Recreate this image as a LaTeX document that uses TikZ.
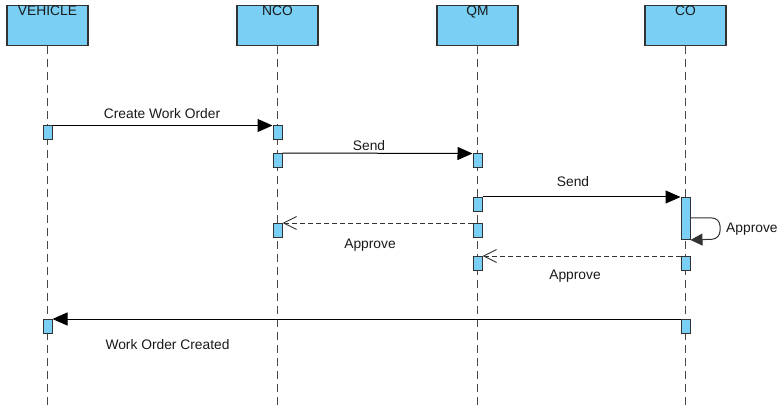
\documentclass[tikz,border=0pt]{standalone}
\usepackage{fontspec}
\setmainfont{Liberation Sans}
\usetikzlibrary{arrows.meta}
\definecolor{actblue}{RGB}{122,207,245}
\definecolor{edge}{RGB}{50,50,50}
\begin{document}
\begin{tikzpicture}[x=1pt,y=-1pt,
  every node/.style={font=\fontsize{13.8}{16}\selectfont, text=black!90},
  header/.style={draw=edge, line width=1.1pt, fill=actblue, minimum width=81pt, minimum height=40pt, anchor=north, inner sep=0pt},
  headtext/.style={anchor=north, inner sep=0pt},
  act/.style={draw=edge, line width=1pt, fill=actblue, minimum width=9pt, anchor=north, inner sep=0pt},
  lifeline/.style={draw=edge!90, line width=1pt, dash pattern=on 8pt off 5pt},
  msg/.style={draw=black, line width=1pt, -{Triangle[length=15pt,width=13pt]}},
  reply/.style={draw=edge, line width=1pt, dash pattern=on 5pt off 3pt, -{Straight Barb[length=13pt,width=13pt]}},
  lbl/.style={inner sep=0pt}
]
\useasboundingbox (0,0) rectangle (777,409);
% headers
\node[header] (hV) at (47.5,5) {};
\node[header] (hN) at (277.5,5) {};
\node[header] (hQ) at (477.5,5) {};
\node[header] (hC) at (685.5,5) {};
\node[headtext] (tV) at (47.5,6) {VEHICLE};
\node[headtext] (tN) at (277.5,6) {NCO};
\node[headtext] (tQ) at (477.5,6) {QM};
\node[headtext] (tC) at (685.5,6) {CO};
% lifeline ends
\coordinate (eV) at (47.5,409);
\coordinate (eN) at (277.5,409);
\coordinate (eQ) at (477.5,409);
\coordinate (eC) at (685.5,409);
\draw[lifeline] (hV.south) -- (eV);
\draw[lifeline] (hN.south) -- (eN);
\draw[lifeline] (hQ.south) -- (eQ);
\draw[lifeline] (hC.south) -- (eC);
% activations
\node[act, minimum height=14pt] (V1) at (47.5,125.5) {};
\node[act, minimum height=14pt] (N1) at (277.5,125.5) {};
\node[act, minimum height=14pt] (N2) at (277.5,153) {};
\node[act, minimum height=14pt] (Q1) at (477.5,153.5) {};
\node[act, minimum height=14pt] (Q2) at (477.5,197) {};
\node[act, minimum height=42pt] (C1) at (685.5,197) {};
\node[act, minimum height=14pt] (N3) at (277.5,223) {};
\node[act, minimum height=14pt] (Q3) at (477.5,223) {};
\node[act, minimum height=14pt] (Q4) at (477.5,256) {};
\node[act, minimum height=14pt] (C2) at (685.5,256) {};
\node[act, minimum height=14pt] (V2) at (47.5,319) {};
\node[act, minimum height=14pt] (C3) at (685.5,319) {};
% messages
\draw[msg] (V1.north east) -- (N1.north west);
\draw[msg] (N2.north east) -- (Q1.north west);
\draw[msg] (Q2.north east) -- (C1.north west);
\draw[reply] (Q3.north west) -- (N3.north east);
\coordinate (s1) at (690,218);
\coordinate (s2) at (720,218);
\coordinate (s3) at (720,239);
\draw[draw=edge, line width=1pt, rounded corners=8pt, -{Triangle[length=12pt,width=12pt]}] (s1) -- (s2) -- (s3) -- (C1.south east);
\draw[reply] (C2.north west) -- (Q4.north east);
\draw[msg] (C3.north west) -- (V2.north east);
% labels
\node[lbl] (l1) at (162,114) {Create Work Order};
\node[lbl] (l2) at (369,146) {Send};
\node[lbl] (l3) at (573,182) {Send};
\node[lbl] (l4) at (370,245.5) {Approve};
\node[lbl, anchor=west] (l5) at (726,229) {Approve};
\node[lbl] (l6) at (575,276.5) {Approve};
\node[lbl] (l7) at (167.5,345) {Work Order Created};
\end{tikzpicture}
\end{document}
